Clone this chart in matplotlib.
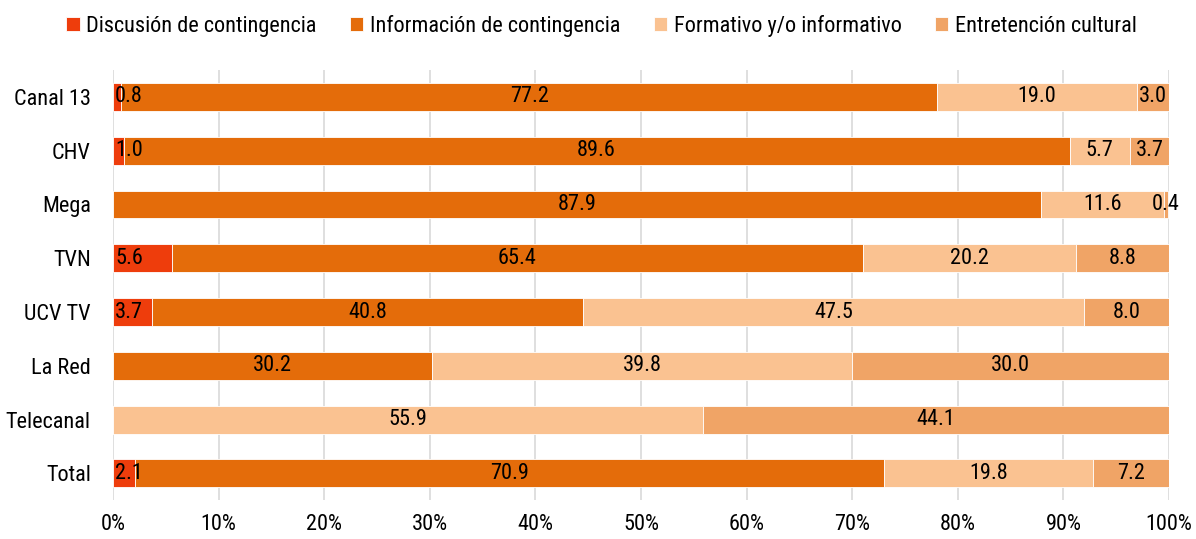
import matplotlib
matplotlib.use("Agg")
import matplotlib.pyplot as plt

plt.rcParams['font.family'] = ['Roboto Condensed', 'DejaVu Sans']

categories = ["Canal 13", "CHV", "Mega", "TVN", "UCV TV", "La Red", "Telecanal", "Total"]
series_names = ["Discusión de contingencia", "Información de contingencia",
                "Formativo y/o informativo", "Entretención cultural"]
discusion = [0.8, 1.0, 0.0, 5.6, 3.7, 0.0, 0.0, 2.1]
informacion = [77.2, 89.6, 87.9, 65.4, 40.8, 30.2, 0.0, 70.9]
formativo = [19.0, 5.7, 11.6, 20.2, 47.5, 39.8, 55.9, 19.8]
entretencion = [3.0, 3.7, 0.4, 8.8, 8.0, 30.0, 44.1, 7.2]
colors = ["#EE3D0C", "#E46C0A", "#FAC291", "#F0A466"]

FS = 16

fig = plt.figure(figsize=(11.96, 5.39), dpi=100)
ax = fig.add_axes([0.0945, 0.072, 0.8829, 0.798])

ys = list(range(len(categories)))
left = [0.0] * len(categories)
for si, (name, vals, c) in enumerate(zip(series_names, [discusion, informacion, formativo, entretencion], colors)):
    ax.barh(ys, [v / 100 for v in vals], left=[l / 100 for l in left], height=0.52,
            color=c, edgecolor='white', linewidth=0.6, label=name, zorder=3)
    for y, v, l in zip(ys, vals, left):
        if v > 0:
            if si == 0:
                ax.text(l / 100 + 0.002, y, f"{v:.1f}", ha='left', va='center', fontsize=FS, zorder=4)
            else:
                ax.text((l + v / 2) / 100, y, f"{v:.1f}", ha='center', va='center', fontsize=FS, zorder=4)
    left = [a + b for a, b in zip(left, vals)]

ax.set_ylim(len(categories) - 0.5, -0.5)
ax.set_xlim(0, 1)
ax.set_yticks(ys)
ax.set_yticklabels(categories, fontsize=FS)
ax.set_xticks([i / 10 for i in range(11)])
ax.set_xticklabels([f"{i*10}%" for i in range(11)], fontsize=FS)
ax.xaxis.grid(True, color='#D9D9D9', linewidth=1.2, zorder=0)
for s in ax.spines.values():
    s.set_visible(False)
ax.tick_params(axis='both', length=0)
ax.tick_params(axis='x', pad=10)
ax.tick_params(axis='y', pad=16)

leg = fig.legend(loc='upper center', bbox_to_anchor=(0.503, 1.01), ncol=4, frameon=False,
                 fontsize=FS, handlelength=0.6, handleheight=0.6, handletextpad=0.3,
                 columnspacing=1.5)

fig.savefig("out.png", dpi=100)
